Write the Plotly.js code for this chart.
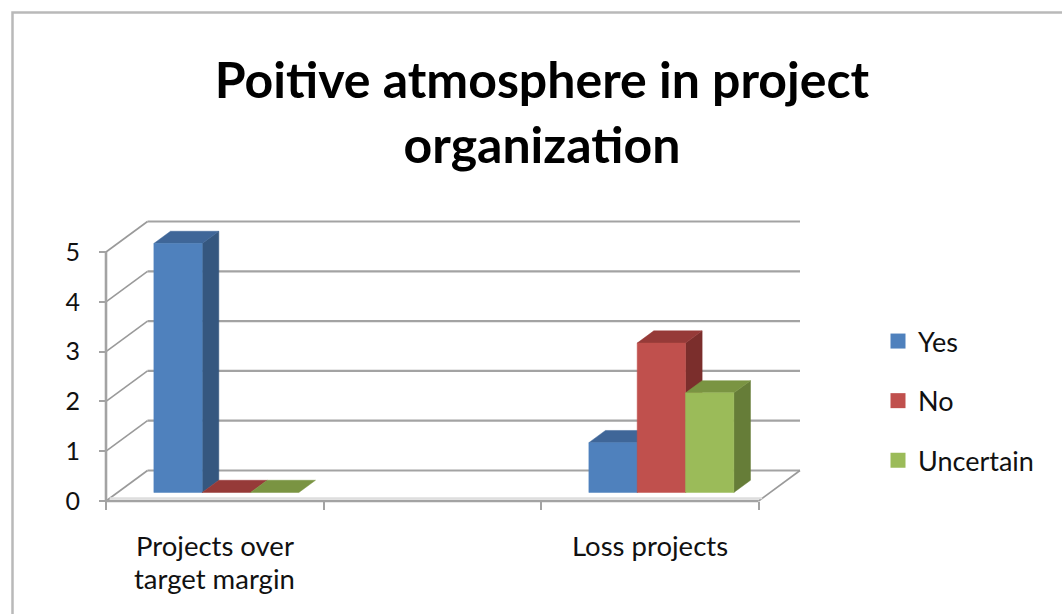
<!DOCTYPE html>
<html>
<head>
<meta charset="utf-8">
<script src="https://cdn.plot.ly/plotly-3.0.1.min.js"></script>
<style>
  html, body { margin: 0; padding: 0; background: #ffffff; }
  #chart { width: 1062px; height: 614px; }
</style>
</head>
<body>
<div id="chart"></div>
<script>
// ---- Data ----
const categories = ['Projects over\ntarget margin', '', 'Loss projects'];
const seriesNames = ['Yes', 'No', 'Uncertain'];
const yesValues = [5, null, 1];
const noValues = [0, null, 3];
const uncertainValues = [0, null, 2];
const valueTicks = [0, 1, 2, 3, 4, 5];

// Face colours per series: front, top, side
const frontColors = ['#4F81BD', '#C0504D', '#9BBB59'];
const topColors = ['#3F6698', '#963A38', '#7A9442'];
const sideColors = ['#35577F', '#7B2E2C', '#667D38'];

// ---- Layout geometry (pixels) ----
const W = 1062, H = 614;
const ORIGIN_X = 106, ORIGIN_Y = 501;      // front-left corner of the floor
const CAT_PX = 217.5, VAL_PX = 49.8;       // size of one category / one unit
const PLOT_LEFT = 96, PLOT_RIGHT = 806, PLOT_TOP = 214, PLOT_BOTTOM = 508;
const plotW = PLOT_RIGHT - PLOT_LEFT, plotH = PLOT_BOTTOM - PLOT_TOP;
const xRange = [-(ORIGIN_X - PLOT_LEFT) / CAT_PX, (PLOT_RIGHT - ORIGIN_X) / CAT_PX];
const yRange = [-(PLOT_BOTTOM - ORIGIN_Y) / VAL_PX, (ORIGIN_Y - PLOT_TOP) / VAL_PX];

// Oblique depth of the floor, in axis units
const DEPTH_X = 41.5 / CAT_PX;
const DEPTH_Y = 30.5 / VAL_PX;
const BAR_FRONT = 0.28, BAR_BACK = 0.68;   // depth band occupied by the columns
const GROUP_PAD = 1 / 6, BAR_W = 2 / 9;

const nCats = categories.length;
const seriesValues = [yesValues, noValues, uncertainValues];

function proj(x, v, d) { return [x + d * DEPTH_X, v + d * DEPTH_Y]; }

function addPoly(acc, pts) {
  pts.forEach(p => { acc.x.push(p[0]); acc.y.push(p[1]); });
  acc.x.push(pts[0][0]); acc.y.push(pts[0][1]);
  acc.x.push(null); acc.y.push(null);
}
function addSeg(acc, a, b) {
  acc.x.push(a[0], b[0], null); acc.y.push(a[1], b[1], null);
}

const traces = [];
const GRID = '#a3a3a3';

// Back wall gridlines
const grid = { x: [], y: [] };
valueTicks.forEach(v => addSeg(grid, proj(0, v, 1), proj(nCats, v, 1)));
// Side wall diagonals
const diag = { x: [], y: [] };
valueTicks.forEach(v => addSeg(diag, proj(0, v, 0), proj(0, v, 1)));
addSeg(diag, proj(nCats, 0, 0), proj(nCats, 0, 1));
// Front vertical axis and front floor edge
const front = { x: [], y: [] };
addSeg(front, proj(0, 0, 0), proj(0, valueTicks[valueTicks.length - 1], 0));
addSeg(front, proj(0, 0, 0), proj(nCats, 0, 0));
// Thin light rim along the top of the floor's front edge
const rim = { x: [], y: [] };
addSeg(rim, proj(0, 0, 0.09), proj(nCats, 0, 0.09));

const lineTrace = (acc, color, width) => ({
  type: 'scatter', mode: 'lines', x: acc.x, y: acc.y,
  line: { color: color, width: width },
  hoverinfo: 'skip', showlegend: false
});
traces.push(lineTrace(grid, GRID, 2.2));
traces.push(lineTrace(diag, '#9a9a9a', 1.6));
traces.push(lineTrace(rim, '#dedede', 2));
traces.push(lineTrace(front, GRID, 2.6));

// Columns, drawn left to right so nearer faces cover farther ones
seriesValues.forEach((vals, s) => {
  const sides = { x: [], y: [] }, tops = { x: [], y: [] }, fronts = { x: [], y: [] };
  vals.forEach((v, c) => {
    if (v === null || v === undefined) return;
    const x0 = c + GROUP_PAD + s * BAR_W, x1 = x0 + BAR_W;
    const f = BAR_FRONT, b = BAR_BACK;
    if (v > 0) {
      addPoly(sides, [proj(x1, 0, f), proj(x1, 0, b), proj(x1, v, b), proj(x1, v, f)]);
      addPoly(fronts, [proj(x0, 0, f), proj(x1, 0, f), proj(x1, v, f), proj(x0, v, f)]);
    }
    addPoly(tops, [proj(x0, v, f), proj(x1, v, f), proj(x1, v, b), proj(x0, v, b)]);
  });
  const face = (acc, color) => ({
    type: 'scatter', mode: 'lines', x: acc.x, y: acc.y, fill: 'toself',
    fillcolor: color, line: { color: color, width: 0.5 },
    hoverinfo: 'skip', showlegend: false
  });
  traces.push(face(sides, sideColors[s]));
  traces.push(face(tops, topColors[s]));
  traces.push(face(fronts, frontColors[s]));
});

// Legend entries
seriesNames.forEach((name, s) => {
  traces.push({
    type: 'scatter', mode: 'markers', x: [null], y: [null], name: name,
    legendgroup: name, showlegend: true,
    marker: { symbol: 'square', size: 15, color: frontColors[s] },
    hoverinfo: 'skip'
  });
});

const FONT = 'Lato, "Open Sans", sans-serif';

// Category labels below the floor
const annotations = [];
categories.forEach((label, c) => {
  if (!label) return;
  label.split('\n').forEach((line, i) => {
    annotations.push({
      x: c + 0.5, y: 0, xref: 'x', yref: 'y', text: line, showarrow: false,
      yanchor: 'middle', xanchor: 'center', yshift: -44 - i * 33,
      font: { family: FONT, size: 27.5, color: '#111111' }
    });
  });
});

const px2paperX = px => (px - PLOT_LEFT) / plotW;
const px2paperY = py => (PLOT_BOTTOM - py) / plotH;

const layout = {
  width: W, height: H,
  margin: { l: PLOT_LEFT, r: W - PLOT_RIGHT, t: PLOT_TOP, b: H - PLOT_BOTTOM, pad: 0 },
  paper_bgcolor: '#ffffff', plot_bgcolor: 'rgba(0,0,0,0)',
  font: { family: FONT, color: '#111111' },
  title: {
    text: '<b>Poitive atmosphere in project<br>organization</b>',
    font: { family: FONT, size: 50, color: '#000000' },
    x: 542 / W, xref: 'container', xanchor: 'center',
    y: 1 - 98 / H, yref: 'container', yanchor: 'top'
  },
  xaxis: {
    range: xRange, showgrid: false, zeroline: false, showline: false,
    tickvals: [0, 1, 2, 3], ticktext: ['', '', '', ''], showticklabels: false,
    ticks: 'outside', ticklen: 8, tickwidth: 2, tickcolor: GRID,
    anchor: 'free', position: px2paperY(ORIGIN_Y), fixedrange: true
  },
  yaxis: {
    range: yRange, showgrid: false, zeroline: false, showline: false,
    tickvals: valueTicks, ticks: 'outside', ticklen: 7, tickwidth: 2, tickcolor: GRID,
    tickfont: { family: FONT, size: 25, color: '#111111' }, ticklabelstandoff: 14,
    anchor: 'free', position: px2paperX(ORIGIN_X), fixedrange: true
  },
  legend: {
    x: px2paperX(878), xanchor: 'left', y: px2paperY(317), yanchor: 'top',
    font: { family: FONT, size: 27, color: '#111111' },
    tracegroupgap: 21.5, itemsizing: 'trace', bgcolor: 'rgba(0,0,0,0)'
  },
  showlegend: true,
  annotations: annotations,
  shapes: [{
    type: 'rect', xref: 'paper', yref: 'paper', layer: 'below',
    x0: px2paperX(12.5), x1: px2paperX(W + 20),
    y0: px2paperY(H + 20), y1: px2paperY(12.5),
    line: { color: '#b9b9b9', width: 2.5 }, fillcolor: 'rgba(0,0,0,0)'
  }]
};

Plotly.newPlot('chart', traces, layout, { displayModeBar: false, staticPlot: true });
</script>
</body>
</html>
